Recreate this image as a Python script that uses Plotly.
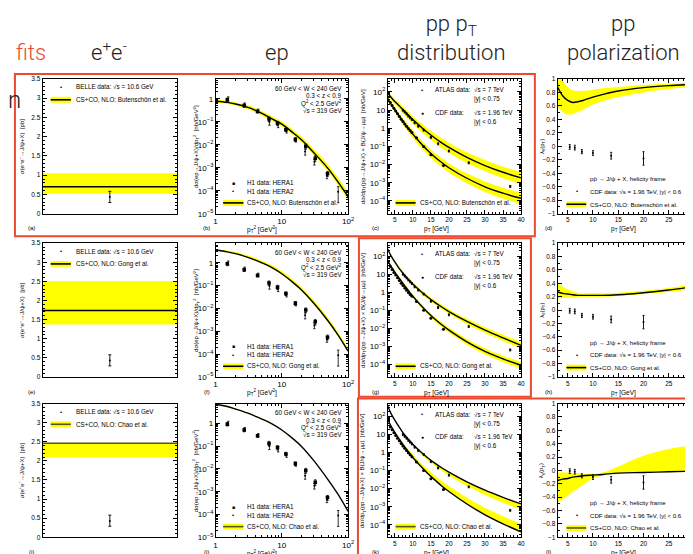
import plotly.graph_objects as go

W, H = 693, 554
FONT = "Liberation Sans"
YEL = "#ffff00"
RED = "#ea4a30"
TS = 6.3  # in-panel text size

# ---------------- data ----------------
MODELS = ["Butenschön et al.", "Gong et al.", "Chao et al."]

# e+e- (BELLE)
BELLE_X = [0.5]
BELLE_Y = [0.43]
BELLE_ERR_UP = [0.15]
BELLE_ERR_DN = [0.14]
EE_CENTRAL = [0.70, 1.74, 2.46]
EE_LOW = [0.52, 1.37, 2.10]
EE_HIGH = [1.05, 2.51, 2.44]

# ep (H1)
H1_PT2_HERA1 = [1.5, 2.7, 4.3, 6.4, 8.6, 11.5, 16, 23, 32, 49]
H1_HERA1 = [0.9, 0.5, 0.28, 0.13, 0.085, 0.045, 0.017, 0.0085, 0.0026, 5.5e-4]
H1_HERA1_ERR = [0.15, 0.08, 0.04, 0.03, 0.018, 0.008, 0.003, 0.002, 0.0007, 1.3e-4]
H1_PT2_HERA2 = [1.55, 2.75, 4.4, 6.5, 8.8, 11.8, 16.3, 22.5, 31, 48, 71]
H1_HERA2 = [1.0, 0.55, 0.3, 0.10, 0.075, 0.04, 0.016, 0.005, 0.0018, 4.5e-4, 9e-5]
H1_HERA2_ERR = [0.2, 0.1, 0.05, 0.03, 0.02, 0.008, 0.003, 0.0015, 0.0005, 1.2e-4, 6e-5]

EP_GRID = [1, 1.5, 2, 3, 4, 5, 7, 10, 15, 20, 30, 50, 70, 100]
EP_LOG_C = [
    [-0.11, -0.16, -0.23, -0.37, -0.51, -0.64, -0.87, -1.11, -1.50, -1.80, -2.33, -3.04, -3.61, -4.26],
    [0.56, 0.48, 0.40, 0.25, 0.12, 0.00, -0.20, -0.48, -0.88, -1.20, -1.75, -2.55, -3.15, -3.87],
    [0.83, 0.73, 0.62, 0.45, 0.30, 0.18, -0.02, -0.30, -0.70, -1.03, -1.62, -2.48, -3.10, -3.86],
]
EP_LOG_HI = [
    [-0.04, -0.09, -0.15, -0.28, -0.41, -0.54, -0.76, -0.99, -1.37, -1.66, -2.18, -2.87, -3.43, -4.06],
    [0.61, 0.54, 0.47, 0.33, 0.21, 0.09, -0.10, -0.37, -0.76, -1.08, -1.62, -2.42, -3.02, -3.75],
    [0.85, 0.75, 0.64, 0.47, 0.32, 0.20, 0.00, -0.28, -0.68, -1.01, -1.60, -2.46, -3.07, -3.82],
]
EP_LOG_LO = [
    [-0.18, -0.23, -0.30, -0.45, -0.59, -0.73, -0.96, -1.21, -1.60, -1.91, -2.45, -3.17, -3.75, -4.41],
    [0.53, 0.45, 0.37, 0.22, 0.08, -0.04, -0.24, -0.52, -0.93, -1.25, -1.81, -2.61, -3.21, -3.93],
    [0.81, 0.71, 0.60, 0.43, 0.28, 0.16, -0.04, -0.32, -0.72, -1.05, -1.64, -2.50, -3.12, -3.89],
]

# pp pT distribution
ATLAS_PT = [7.25, 7.75, 8.25, 8.75, 9.25, 9.75, 10.5, 11.5, 13, 15, 17, 20, 25.5, 37]
ATLAS_LOGY = [1.0, 0.9, 0.8, 0.68, 0.58, 0.48, 0.3, 0.12, -0.1, -0.5, -0.85, -1.25, -1.9, -3.2]
CDF_PT = [3.75, 4.25, 4.75, 5.25, 5.75, 6.25, 6.75, 7.25, 7.75, 8.25, 8.75, 9.25, 9.75, 11, 13, 15, 18.5]
CDF_LOGY = [1.42, 1.26, 1.1, 0.95, 0.8, 0.65, 0.5, 0.37, 0.24, 0.11, -0.01, -0.12, -0.23, -0.52, -1.0, -1.45, -2.05]

PT_GRID = [3, 4, 5, 6, 7, 8, 9, 10, 12, 14, 16, 18, 20, 25, 30, 35, 40]
PT_UP_C = [
    [1.95, 1.70, 1.48, 1.28, 1.08, 0.88, 0.68, 0.48, 0.12, -0.22, -0.52, -0.80, -1.05, -1.60, -2.05, -2.42, -2.73],
    [2.40, 2.00, 1.68, 1.38, 1.12, 0.88, 0.66, 0.45, 0.08, -0.25, -0.55, -0.82, -1.07, -1.62, -2.10, -2.53, -2.95],
    [2.60, 2.15, 1.80, 1.48, 1.18, 0.92, 0.68, 0.46, 0.07, -0.27, -0.57, -0.84, -1.08, -1.62, -2.08, -2.48, -2.85],
]
PT_UP_HI = [
    [2.05, 1.82, 1.61, 1.43, 1.24, 1.05, 0.86, 0.67, 0.33, 0.01, -0.28, -0.55, -0.79, -1.32, -1.75, -2.11, -2.41],
    [2.46, 2.06, 1.75, 1.45, 1.20, 0.96, 0.75, 0.54, 0.18, -0.14, -0.43, -0.69, -0.94, -1.47, -1.94, -2.36, -2.77],
    [2.60, 2.15, 1.80, 1.48, 1.18, 0.92, 0.68, 0.46, 0.07, -0.27, -0.57, -0.84, -1.08, -1.62, -2.08, -2.48, -2.85],
]
PT_UP_LO = [
    [1.83, 1.56, 1.32, 1.10, 0.89, 0.68, 0.47, 0.26, -0.12, -0.48, -0.79, -1.08, -1.34, -1.91, -2.37, -2.75, -3.07],
    [2.34, 1.94, 1.61, 1.31, 1.04, 0.80, 0.57, 0.36, -0.02, -0.36, -0.67, -0.95, -1.20, -1.77, -2.26, -2.70, -3.13],
    [2.58, 2.12, 1.76, 1.43, 1.12, 0.85, 0.60, 0.37, -0.04, -0.40, -0.72, -1.01, -1.27, -1.86, -2.35, -2.78, -3.15],
]
PT_LO_C = [
    [1.65, 1.32, 1.03, 0.74, 0.46, 0.19, -0.07, -0.32, -0.78, -1.20, -1.57, -1.88, -2.17, -2.75, -3.22, -3.57, -3.85],
    [1.75, 1.42, 1.12, 0.84, 0.56, 0.29, 0.03, -0.22, -0.68, -1.09, -1.47, -1.80, -2.10, -2.75, -3.28, -3.70, -4.05],
    [1.85, 1.45, 1.12, 0.81, 0.52, 0.24, -0.02, -0.27, -0.72, -1.13, -1.50, -1.85, -2.16, -2.85, -3.45, -3.95, -4.40],
]
PT_LO_HI = [
    [1.76, 1.45, 1.17, 0.89, 0.62, 0.36, 0.11, -0.13, -0.57, -0.98, -1.34, -1.64, -1.92, -2.48, -2.93, -3.27, -3.54],
    [1.81, 1.49, 1.19, 0.92, 0.64, 0.38, 0.12, -0.13, -0.58, -0.98, -1.35, -1.67, -1.96, -2.59, -3.11, -3.52, -3.86],
    [1.87, 1.49, 1.18, 0.89, 0.62, 0.36, 0.12, -0.11, -0.53, -0.91, -1.25, -1.57, -1.86, -2.50, -3.06, -3.53, -3.95],
]
PT_LO_LO = [
    [1.53, 1.18, 0.88, 0.57, 0.28, 0.00, -0.27, -0.53, -1.00, -1.43, -1.81, -2.13, -2.43, -3.02, -3.50, -3.87, -4.16],
    [1.69, 1.35, 1.05, 0.76, 0.48, 0.20, -0.06, -0.31, -0.78, -1.20, -1.59, -1.93, -2.24, -2.91, -3.45, -3.88, -4.24],
    [1.85, 1.45, 1.12, 0.81, 0.52, 0.24, -0.02, -0.27, -0.72, -1.13, -1.50, -1.85, -2.16, -2.85, -3.45, -3.95, -4.40],
]

# pp polarization
POL_PT = [5.4, 6.4, 7.8, 10.0, 13.6, 20.0]
POL_LAM = [-0.01, -0.02, -0.08, -0.10, -0.14, -0.18]
POL_ERR = [0.035, 0.035, 0.03, 0.035, 0.05, 0.10]
POL_GRID = [3, 4, 5, 6, 7, 8, 10, 12, 15, 20, 25, 30]
POL_C = [
    [0.88, 0.75, 0.68, 0.65, 0.66, 0.68, 0.73, 0.77, 0.82, 0.87, 0.90, 0.92],
    [0.27, 0.25, 0.24, 0.23, 0.22, 0.22, 0.22, 0.22, 0.23, 0.26, 0.30, 0.35],
    [-0.15, -0.13, -0.12, -0.10, -0.09, -0.08, -0.07, -0.06, -0.04, -0.03, -0.02, -0.01],
]
POL_HI = [
    [1.05, 0.97, 0.88, 0.83, 0.82, 0.82, 0.84, 0.86, 0.88, 0.91, 0.93, 0.95],
    [0.40, 0.35, 0.31, 0.28, 0.26, 0.25, 0.25, 0.25, 0.26, 0.29, 0.33, 0.39],
    [-0.03, -0.03, -0.03, -0.04, -0.04, -0.05, -0.05, -0.03, 0.06, 0.22, 0.32, 0.38],
]
POL_LO = [
    [0.58, 0.51, 0.47, 0.48, 0.51, 0.54, 0.62, 0.67, 0.73, 0.80, 0.85, 0.88],
    [0.17, 0.18, 0.19, 0.19, 0.20, 0.20, 0.20, 0.20, 0.21, 0.24, 0.27, 0.32],
    [-0.48, -0.43, -0.38, -0.32, -0.27, -0.22, -0.12, -0.07, -0.04, -0.02, -0.01, 0.00],
]

COL_TITLES = ["e<sup>+</sup>e<sup>-</sup>", "ep", "pp p<sub>T</sub><br>distribution", "pp<br>polarization"]
PANEL_LETTERS = ["(a)", "(b)", "(c)", "(d)", "(e)", "(f)", "(g)", "(h)", "(i)", "(j)", "(k)", "(l)"]

# ---------------- layout geometry (pixels) ----------------
COLS = [(33, 169), (208, 342), (382, 517), (554, 692)]
ROWS = [(68, 205), (235, 371), (398, 534)]


def px(x):
    return x / W


def py(y):
    return 1 - y / H


def names(i):
    s = "" if i == 1 else str(i)
    return "x" + s, "y" + s


fig = go.Figure()
annotations = []
shapes = []


def lg(v):
    return [10 ** a for a in v]


def add_band(i, x, lo, hi, line=None, lcolor="black"):
    xa, ya = names(i)
    fig.add_trace(go.Scatter(x=x, y=lo, mode="lines", line=dict(width=0, shape="spline"),
                             xaxis=xa, yaxis=ya, showlegend=False, hoverinfo="skip"))
    fig.add_trace(go.Scatter(x=x, y=hi, mode="lines", line=dict(width=0, shape="spline"),
                             fill="tonexty", fillcolor=YEL,
                             xaxis=xa, yaxis=ya, showlegend=False, hoverinfo="skip"))
    if line is not None:
        fig.add_trace(go.Scatter(x=x, y=line, mode="lines",
                                 line=dict(color=lcolor, width=1.4, shape="spline"),
                                 xaxis=xa, yaxis=ya, showlegend=False, hoverinfo="skip"))


def txt(i, x, y, text, size=TS, xanchor="left", **kw):
    xa, ya = names(i)
    annotations.append(dict(xref=xa + " domain", yref=ya + " domain", x=x, y=y, text=text,
                            showarrow=False, xanchor=xanchor, yanchor="middle",
                            font=dict(family=FONT, size=size, color="black"), **kw))


def swatch(i, x0, x1, yc, lcolor="black"):
    xa, ya = names(i)
    shapes.append(dict(type="rect", xref=xa + " domain", yref=ya + " domain",
                       x0=x0, x1=x1, y0=yc - 0.022, y1=yc + 0.022,
                       fillcolor=YEL, line=dict(width=0)))
    shapes.append(dict(type="line", xref=xa + " domain", yref=ya + " domain",
                       x0=x0, x1=x1, y0=yc, y1=yc, line=dict(color=lcolor, width=1.6)))


base_axis = dict(showline=True, linecolor="black", linewidth=1, mirror="ticks",
                 ticks="inside", ticklen=4, tickcolor="black", tickwidth=0.8,
                 showgrid=False, zeroline=False,
                 tickfont=dict(family=FONT, size=6.5, color="black"))

layout_axes = {}
for r in range(3):
    for c in range(4):
        i = r * 4 + c + 1
        xa, ya = names(i)
        xd = [px(COLS[c][0]), px(COLS[c][1])]
        yd = [py(ROWS[r][1]), py(ROWS[r][0])]
        xax = dict(base_axis, domain=xd, anchor=ya)
        yax = dict(base_axis, domain=yd, anchor=xa)
        if c == 0:
            xax.update(range=[0, 1], showticklabels=False, ticks="")
            yax.update(range=[0, 3.5], dtick=0.5, tick0=0,
                       minor=dict(dtick=0.1, ticks="inside", ticklen=2, tickcolor="black"))
        elif c == 1:
            xax.update(type="log", range=[0, 2], dtick=1, exponentformat="power",
                       minor=dict(dtick="D1", ticks="inside", ticklen=2, tickcolor="black"))
            yax.update(type="log", range=[-5, 0.86], dtick=1, exponentformat="power",
                       minor=dict(dtick="D1", ticks="inside", ticklen=2, tickcolor="black"))
        elif c == 2:
            xax.update(range=[3, 40], dtick=5, tick0=0,
                       minor=dict(dtick=1, ticks="inside", ticklen=2, tickcolor="black"))
            yax.update(type="log", range=[-4.7, 2.72], dtick=1, exponentformat="power",
                       minor=dict(dtick="D1", ticks="inside", ticklen=2, tickcolor="black"))
        else:
            xax.update(range=[3, 30], dtick=5, tick0=0,
                       minor=dict(dtick=1, ticks="inside", ticklen=2, tickcolor="black"))
            yax.update(range=[-1, 1], dtick=0.2, tick0=0,
                       minor=dict(dtick=0.1, ticks="inside", ticklen=2, tickcolor="black"))
        layout_axes["xaxis" + xa[1:]] = xax
        layout_axes["yaxis" + ya[1:]] = yax

for r in range(3):
    model = MODELS[r]
    lcol = "#55552a" if r == 2 else "black"
    # ---- column 1: e+e- ----
    i = r * 4 + 1
    xa, ya = names(i)
    add_band(i, [0, 1], [EE_LOW[r]] * 2, [EE_HIGH[r]] * 2)
    fig.add_trace(go.Scatter(x=[0, 1], y=[EE_CENTRAL[r]] * 2, mode="lines",
                             line=dict(color=lcol, width=1.4), xaxis=xa, yaxis=ya,
                             showlegend=False))
    fig.add_trace(go.Scatter(x=BELLE_X, y=BELLE_Y, mode="markers",
                             marker=dict(size=2, color="black"),
                             error_y=dict(type="data", array=BELLE_ERR_UP, arrayminus=BELLE_ERR_DN,
                                          color="black", thickness=0.9, width=1.5),
                             xaxis=xa, yaxis=ya, showlegend=False))
    txt(i, 0.14, 0.94, "•", size=6, xanchor="center")
    txt(i, 0.23, 0.94, "BELLE data: √s = 10.6 GeV")
    swatch(i, 0.06, 0.21, 0.845, lcol)
    txt(i, 0.23, 0.845, "CS+CO, NLO: " + model)

    # ---- column 2: ep ----
    i = r * 4 + 2
    xa, ya = names(i)
    add_band(i, EP_GRID, lg(EP_LOG_LO[r]), lg(EP_LOG_HI[r]), lg(EP_LOG_C[r]))
    fig.add_trace(go.Scatter(x=H1_PT2_HERA1, y=H1_HERA1, mode="markers",
                             marker=dict(size=3.5, color="black", symbol="square"),
                             error_y=dict(type="data", array=H1_HERA1_ERR, color="black",
                                          thickness=0.8, width=1.2),
                             xaxis=xa, yaxis=ya, showlegend=False))
    fig.add_trace(go.Scatter(x=H1_PT2_HERA2, y=H1_HERA2, mode="markers",
                             marker=dict(size=2, color="black"),
                             error_y=dict(type="data", array=H1_HERA2_ERR, color="black",
                                          thickness=0.8, width=1.2),
                             xaxis=xa, yaxis=ya, showlegend=False))
    txt(i, 0.97, 0.93, "60 GeV < W < 240 GeV", xanchor="right")
    txt(i, 0.97, 0.875, "0.3 < z < 0.9", xanchor="right")
    txt(i, 0.97, 0.82, "Q<sup>2</sup> < 2.5 GeV<sup>2</sup>", xanchor="right")
    txt(i, 0.97, 0.765, "√s = 319 GeV", xanchor="right")
    txt(i, 0.134, 0.23, "■", size=5, xanchor="center")
    txt(i, 0.22, 0.23, "H1 data: HERA1")
    txt(i, 0.134, 0.165, "•", size=6, xanchor="center")
    txt(i, 0.22, 0.165, "H1 data: HERA2")
    swatch(i, 0.057, 0.21, 0.08, lcol)
    txt(i, 0.22, 0.08, "CS+CO, NLO: " + model)

    # ---- column 3: pp pT ----
    i = r * 4 + 3
    xa, ya = names(i)
    add_band(i, PT_GRID, lg(PT_UP_LO[r]), lg(PT_UP_HI[r]), lg(PT_UP_C[r]))
    add_band(i, PT_GRID, lg(PT_LO_LO[r]), lg(PT_LO_HI[r]), lg(PT_LO_C[r]))
    fig.add_trace(go.Scatter(x=ATLAS_PT, y=lg(ATLAS_LOGY), mode="markers",
                             marker=dict(size=2.2, color="black"),
                             error_y=dict(type="percent", value=12, color="black",
                                          thickness=0.8, width=1),
                             xaxis=xa, yaxis=ya, showlegend=False))
    fig.add_trace(go.Scatter(x=CDF_PT, y=lg(CDF_LOGY), mode="markers",
                             marker=dict(size=3, color="black"),
                             xaxis=xa, yaxis=ya, showlegend=False))
    txt(i, 0.26, 0.92, "•", size=6, xanchor="center")
    txt(i, 0.34, 0.92, "ATLAS data:")
    txt(i, 0.63, 0.92, "√s = 7 TeV")
    txt(i, 0.63, 0.85, "|y| < 0.75")
    txt(i, 0.26, 0.75, "●", size=5, xanchor="center")
    txt(i, 0.34, 0.75, "CDF data:")
    txt(i, 0.63, 0.75, "√s = 1.96 TeV")
    txt(i, 0.63, 0.68, "|y| < 0.6")
    swatch(i, 0.06, 0.21, 0.08, lcol)
    txt(i, 0.23, 0.08, "CS+CO, NLO: " + model)

    # ---- column 4: polarization ----
    i = r * 4 + 4
    xa, ya = names(i)
    add_band(i, POL_GRID, POL_LO[r], POL_HI[r], POL_C[r])
    fig.add_trace(go.Scatter(x=POL_PT, y=POL_LAM, mode="markers",
                             marker=dict(size=2, color="black"),
                             error_y=dict(type="data", array=POL_ERR, color="black",
                                          thickness=0.9, width=1),
                             xaxis=xa, yaxis=ya, showlegend=False))
    txt(i, 0.225, 0.26, "pp\u0304 → J/ψ + X, helicity frame", size=6.1)
    txt(i, 0.14, 0.165, "•", size=6, xanchor="center")
    txt(i, 0.225, 0.165, "CDF data: √s = 1.96 TeV, |y| < 0.6", size=6.1)
    swatch(i, 0.065, 0.21, 0.07, lcol)
    txt(i, 0.225, 0.07, "CS+CO, NLO: " + model, size=6.1)

# axis titles and panel letters (paper coords)
Y_TITLES = ["σ(e<sup>+</sup>e<sup>−</sup>→J/ψ+X)  [pb]",
            "dσ(ep→J/ψ+X)/dp<sub>T</sub><sup>2</sup>  [nb/GeV<sup>2</sup>]",
            "dσ/dp<sub>T</sub>(pp→J/ψ+X) × B(J/ψ→μμ)  [nb/GeV]",
            "λ<sub>θ</sub>(p<sub>T</sub>)"]
Y_TITLE_X = [12, 188, 357, 538]
X_TITLES = [None, "p<sub>T</sub><sup>2</sup> [GeV<sup>2</sup>]", "p<sub>T</sub> [GeV]", "p<sub>T</sub> [GeV]"]
X_TITLE_X = [None, 255, 431, 621]
LETTER_X = [22, 199, 370, 545]

for r in range(3):
    ymid = (ROWS[r][0] + ROWS[r][1]) / 2
    for c in range(4):
        annotations.append(dict(xref="paper", yref="paper", x=px(Y_TITLE_X[c]), y=py(ymid),
                                text=Y_TITLES[c], textangle=-90, showarrow=False,
                                xanchor="center", yanchor="middle",
                                font=dict(family=FONT, size=6, color="black")))
        if X_TITLES[c]:
            annotations.append(dict(xref="paper", yref="paper", x=px(X_TITLE_X[c]),
                                    y=py(ROWS[r][1] + 16), text=X_TITLES[c], showarrow=False,
                                    xanchor="center", yanchor="middle",
                                    font=dict(family=FONT, size=6.5, color="black")))
        annotations.append(dict(xref="paper", yref="paper", x=px(LETTER_X[c]),
                                y=py(ROWS[r][1] + 15), text=PANEL_LETTERS[r * 4 + c],
                                showarrow=False, xanchor="center", yanchor="middle",
                                font=dict(family=FONT, size=6, color="black")))

# column titles
TITLE_FONT = dict(family="Roboto", size=22, color="#222222", weight=300)
TITLE_X = [100, 270, 447, 621]
for c in range(4):
    annotations.append(dict(xref="paper", yref="paper", x=px(TITLE_X[c]), y=py(56),
                            text=COL_TITLES[c], showarrow=False, xanchor="center",
                            yanchor="bottom", font=TITLE_FONT))
annotations.append(dict(xref="paper", yref="paper", x=px(4), y=py(56), text="fits",
                        showarrow=False, xanchor="left", yanchor="bottom",
                        font=dict(family="Roboto", size=22, color=RED, weight=300)))
annotations.append(dict(xref="paper", yref="paper", x=px(-4), y=py(106), text="n",
                        showarrow=False, xanchor="left", yanchor="bottom",
                        font=dict(family="Roboto", size=24, color="#222222", weight=300)))

# red highlight boxes
for (x0, y0, x1, y1) in [(5, 63, 531, 228), (353, 230, 527, 391), (352, 393, 700, 560)]:
    shapes.append(dict(type="rect", xref="paper", yref="paper", x0=px(x0), x1=px(x1),
                       y0=py(y1), y1=py(y0), line=dict(color=RED, width=2),
                       fillcolor="rgba(0,0,0,0)", layer="above"))

fig.update_layout(width=W, height=H, margin=dict(l=0, r=0, t=0, b=0),
                  paper_bgcolor="white", plot_bgcolor="white",
                  annotations=annotations, shapes=shapes, showlegend=False,
                  **layout_axes)
fig.write_html("out.html")
